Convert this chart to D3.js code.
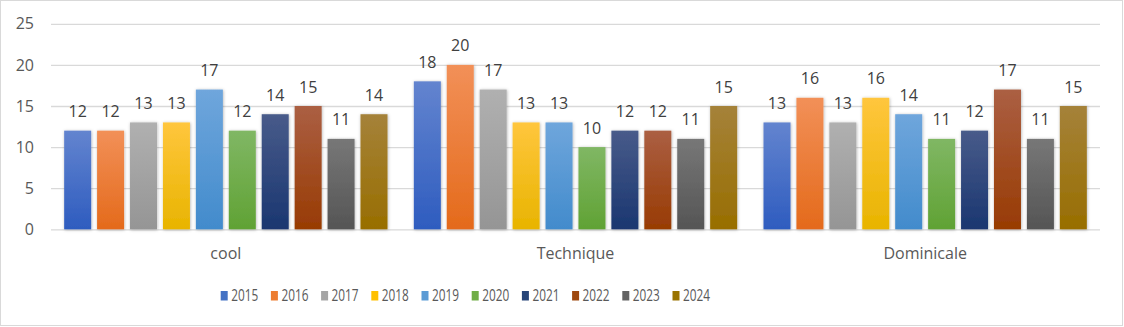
<!DOCTYPE html>
<html>
<head>
<meta charset="utf-8">
<script src="https://cdn.jsdelivr.net/npm/d3@7"></script>
<style>
  body { margin: 0; background: #fff; }
  svg { display: block; }
</style>
</head>
<body>
<svg width="1124" height="327"></svg>
<script>
// categories and series
var categories = ["cool", "Technique", "Dominicale"];
var years = ["2015", "2016", "2017", "2018", "2019", "2020", "2021", "2022", "2023", "2024"];
var values2015 = [12, 18, 13];
var values2016 = [12, 20, 16];
var values2017 = [13, 17, 13];
var values2018 = [13, 13, 16];
var values2019 = [17, 13, 14];
var values2020 = [12, 10, 11];
var values2021 = [14, 12, 12];
var values2022 = [15, 12, 17];
var values2023 = [11, 11, 11];
var values2024 = [14, 15, 15];
var yTicks = [0, 5, 10, 15, 20, 25];

var seriesValues = [values2015, values2016, values2017, values2018, values2019,
    values2020, values2021, values2022, values2023, values2024];

// top / bottom gradient colours per year
var topColors = ["#6384cf", "#f29058", "#b0b0b0", "#ffc63d", "#6fa6dc", "#80b764", "#485b8a", "#ab5f43", "#777777", "#a5823a"];
var botColors = ["#2e5cbf", "#e46a1b", "#959595", "#e8b400", "#428bcc", "#60a234", "#1a3670", "#983b03", "#555555", "#986e00"];
var legendColors = ["#4472c4", "#ed7d31", "#a5a5a5", "#ffc000", "#5b9bd5", "#70ad47", "#264478", "#9e480e", "#636363", "#997300"];

var svg = d3.select("svg");
var defs = svg.append("defs");

years.forEach(function(y, i) {
    var g = defs.append("linearGradient")
        .attr("id", "grad" + i)
        .attr("x1", 0).attr("y1", 0).attr("x2", 0).attr("y2", 1);
    g.append("stop").attr("offset", "0%").attr("stop-color", topColors[i]);
    g.append("stop").attr("offset", "100%").attr("stop-color", botColors[i]);
});

var shadow = defs.append("filter")
    .attr("id", "shadow")
    .attr("x", "-30%").attr("y", "-10%").attr("width", "160%").attr("height", "130%");
shadow.append("feDropShadow")
    .attr("dx", 0.5).attr("dy", 0.5)
    .attr("stdDeviation", 1.8)
    .attr("flood-color", "#000")
    .attr("flood-opacity", 0.3);

// outer frame
svg.append("rect")
    .attr("x", 0.5).attr("y", 0.5)
    .attr("width", 1122).attr("height", 325)
    .attr("fill", "#fff")
    .attr("stroke", "#d9d9d9");

var x0 = d3.scaleBand()
    .domain(categories)
    .range([51, 1100])
    .padding(0);

var x1 = d3.scaleBand()
    .domain(years)
    .range([0, x0.bandwidth()])
    .paddingInner(0.18)
    .paddingOuter(0.4);

var yScale = d3.scaleLinear()
    .domain([0, 25])
    .range([229.3, 23.8]);

var font = "'Open Sans', sans-serif";

// gridlines + y labels
var yAxis = svg.append("g")
    .attr("transform", "translate(51,0)")
    .call(d3.axisLeft(yScale)
        .tickValues(yTicks)
        .tickSize(-(1100 - 51))
        .tickPadding(17));

yAxis.select(".domain").remove();
yAxis.selectAll(".tick line")
    .attr("stroke", "#d9d9d9")
    .attr("stroke-width", 1.3);
yAxis.selectAll(".tick text")
    .attr("fill", "#595959")
    .style("font-family", font)
    .style("font-size", "16px");

// bars
var groups = svg.selectAll(".cat")
    .data(categories)
    .enter()
    .append("g")
    .attr("class", "cat")
    .attr("transform", function(d) {
        return "translate(" + x0(d) + ",0)";
    });

groups.selectAll("rect")
    .data(function(d, ci) {
        return years.map(function(y, i) {
            return { year: y, idx: i, value: seriesValues[i][ci] };
        });
    })
    .enter()
    .append("rect")
    .attr("x", function(d) { return x1(d.year); })
    .attr("y", function(d) { return yScale(d.value); })
    .attr("width", x1.bandwidth())
    .attr("height", function(d) { return yScale(0) - yScale(d.value); })
    .attr("fill", function(d) { return "url(#grad" + d.idx + ")"; })
    .attr("filter", "url(#shadow)");

// data labels
groups.selectAll(".lbl")
    .data(function(d, ci) {
        return years.map(function(y, i) {
            return { year: y, value: seriesValues[i][ci] };
        });
    })
    .enter()
    .append("text")
    .attr("class", "lbl")
    .attr("x", function(d) { return x1(d.year) + x1.bandwidth() / 2; })
    .attr("y", function(d) { return yScale(d.value) - 13.5; })
    .attr("text-anchor", "middle")
    .attr("fill", "#404040")
    .style("font-family", font)
    .style("font-size", "16px")
    .text(function(d) { return d.value; });

// category labels
var xAxis = svg.append("g")
    .attr("transform", "translate(0,229.3)")
    .call(d3.axisBottom(x0).tickSize(0).tickPadding(18));
xAxis.select(".domain").remove();
xAxis.selectAll(".tick text")
    .attr("fill", "#595959")
    .style("font-family", font)
    .style("font-size", "16px");

// legend
var legend = svg.append("g")
    .attr("transform", "translate(220.7,0)");

var items = legend.selectAll(".item")
    .data(years)
    .enter()
    .append("g")
    .attr("class", "item")
    .attr("transform", function(d, i) {
        return "translate(" + (i * 50.2) + ",0)";
    });

items.append("rect")
    .attr("x", 0)
    .attr("y", 291)
    .attr("width", 7)
    .attr("height", 9.5)
    .attr("fill", function(d, i) { return legendColors[i]; });

items.append("text")
    .attr("x", 10.5)
    .attr("y", 300.7)
    .attr("fill", "#595959")
    .attr("textLength", 27)
    .attr("lengthAdjust", "spacingAndGlyphs")
    .style("font-family", font)
    .style("font-size", "15.5px")
    .text(function(d) { return d; });
</script>
</body>
</html>
